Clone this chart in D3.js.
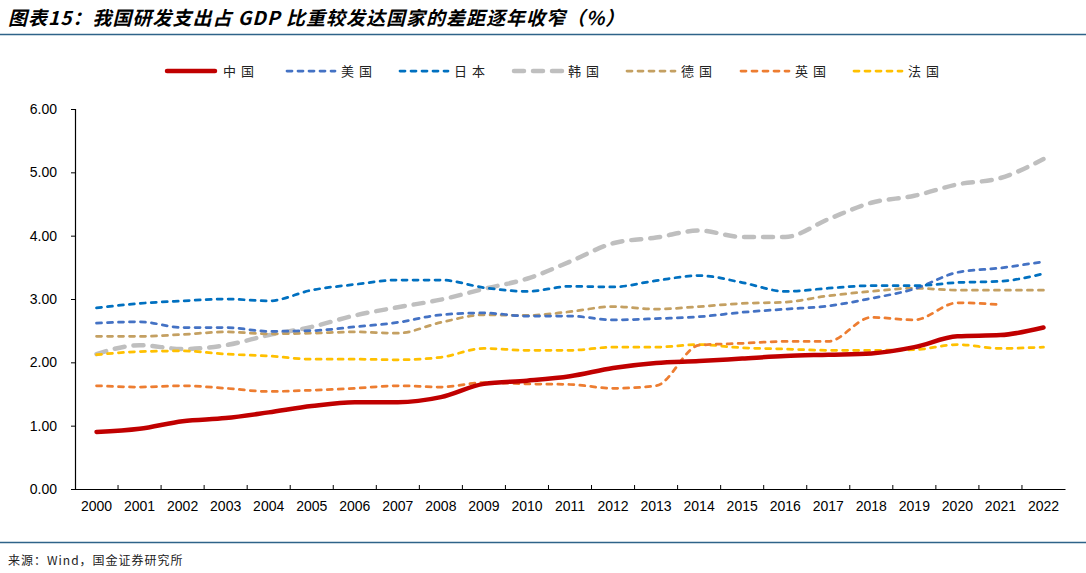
<!DOCTYPE html>
<html>
<head>
<meta charset="utf-8">
<script src="https://cdn.jsdelivr.net/npm/d3@7"></script>
<style>
  body { margin: 0; background: #fff; }
  svg { display: block; }
  .tick text { font-family: "Liberation Sans", Arial, sans-serif; font-size: 14px; fill: #000; }
</style>
</head>
<body>
<script>
const years = ["2000","2001","2002","2003","2004","2005","2006","2007","2008","2009","2010","2011",
  "2012","2013","2014","2015","2016","2017","2018","2019","2020","2021","2022"];
const yTicks = [0, 1, 2, 3, 4, 5, 6];

const china   = [0.90,0.95,1.07,1.12,1.21,1.31,1.37,1.37,1.45,1.66,1.71,1.78,1.91,1.99,2.02,2.06,2.10,2.12,2.14,2.24,2.41,2.43,2.55];
const usa     = [2.62,2.64,2.55,2.55,2.49,2.50,2.56,2.63,2.75,2.78,2.73,2.73,2.67,2.69,2.72,2.79,2.84,2.89,3.01,3.16,3.42,3.49,3.59];
const japan   = [2.86,2.93,2.97,3.00,2.97,3.14,3.23,3.30,3.30,3.18,3.12,3.20,3.19,3.29,3.37,3.26,3.12,3.17,3.21,3.21,3.26,3.28,3.40];
const korea   = [2.13,2.27,2.21,2.27,2.43,2.56,2.74,2.87,2.99,3.16,3.32,3.59,3.88,3.97,4.08,3.98,3.98,4.26,4.52,4.63,4.81,4.91,5.21];
const germany = [2.41,2.41,2.44,2.48,2.45,2.46,2.48,2.46,2.63,2.75,2.74,2.80,2.88,2.84,2.88,2.93,2.95,3.05,3.12,3.17,3.14,3.14,3.14];
const uk      = [1.63,1.61,1.63,1.59,1.54,1.56,1.59,1.63,1.61,1.68,1.66,1.65,1.59,1.63,2.27,2.30,2.33,2.33,2.71,2.67,2.94,2.91,null];
const france  = [2.12,2.17,2.18,2.13,2.10,2.05,2.05,2.04,2.08,2.22,2.19,2.19,2.24,2.24,2.28,2.23,2.21,2.19,2.19,2.20,2.28,2.22,2.24];

const series = [
  { name: "中国", values: china,   color: "#C00000", width: 4.5, dash: null },
  { name: "美国", values: usa,     color: "#4472C4", width: 2.75, dash: "5,6" },
  { name: "日本", values: japan,   color: "#0070C0", width: 2.75, dash: "5,6" },
  { name: "韩国", values: korea,   color: "#BFBFBF", width: 4.5, dash: "10,9" },
  { name: "德国", values: germany, color: "#C4A062", width: 2.75, dash: "5,6" },
  { name: "英国", values: uk,      color: "#ED7D31", width: 2.75, dash: "5,6" },
  { name: "法国", values: france,  color: "#FFC000", width: 2.75, dash: "5,6" }
];

const width = 1086;
const height = 573;
const margins = { top: 109, right: 21, bottom: 84, left: 75 };

const svg = d3.select("body").append("svg")
  .attr("width", width)
  .attr("height", height);

// title + rules
svg.append("text")
  .attr("x", 8)
  .attr("y", 25)
  .attr("font-family", "'Noto Sans CJK SC', sans-serif")
  .attr("font-size", 19)
  .attr("font-weight", "bold")
  .attr("font-style", "italic")
  .attr("letter-spacing", 1)
  .attr("fill", "#000")
  .attr("xml:space", "preserve")
  .text("图表15：我国研发支出占 GDP 比重较发达国家的差距逐年收窄（%）");

svg.append("line")
  .attr("x1", 0).attr("x2", width)
  .attr("y1", 34.5).attr("y2", 34.5)
  .attr("stroke", "#2E6389").attr("stroke-width", 1.5);

svg.append("line")
  .attr("x1", 0).attr("x2", width)
  .attr("y1", 542.5).attr("y2", 542.5)
  .attr("stroke", "#2E6389").attr("stroke-width", 1.5);

svg.append("text")
  .attr("x", 8)
  .attr("y", 565)
  .attr("font-family", "'Noto Sans CJK SC', sans-serif")
  .attr("font-size", 12)
  .attr("letter-spacing", 1)
  .attr("fill", "#222")
  .text("来源：Wind，国金证券研究所");

// scales
const x = d3.scaleBand()
  .domain(years)
  .range([margins.left, width - margins.right]);

const y = d3.scaleLinear()
  .domain([0, 6])
  .range([height - margins.bottom, margins.top]);

// axes
const xAxis = svg.append("g")
  .attr("transform", "translate(0," + y(0) + ")")
  .call(d3.axisBottom(x).tickSize(0).tickPadding(12));
xAxis.select(".domain").attr("stroke", "#000").attr("stroke-width", 1.2);

// tick marks between categories, pointing up
xAxis.selectAll(".sep")
  .data(years.slice(1))
  .enter()
  .append("line")
  .attr("class", "sep")
  .attr("x1", (d) => x(d))
  .attr("x2", (d) => x(d))
  .attr("y1", 0)
  .attr("y2", -4)
  .attr("stroke", "#000");

const yAxis = svg.append("g")
  .attr("transform", "translate(" + margins.left + ",0)")
  .call(d3.axisLeft(y).tickValues(yTicks).tickFormat(d3.format(".2f")).tickSize(4).tickPadding(14));
yAxis.select(".domain").attr("stroke", "#000").attr("stroke-width", 1.2);

// lines
const line = d3.line()
  .defined((d) => d != null)
  .x((d, i) => x(years[i]) + x.bandwidth() / 2)
  .y((d) => y(d))
  .curve(d3.curveMonotoneX);

// draw in an order similar to the reference (china on top)
const order = ["韩国", "德国", "法国", "英国", "美国", "日本", "中国"];
order.forEach(function (n) {
  const s = series.find((d) => d.name == n);
  svg.append("path")
    .datum(s.values)
    .attr("d", line)
    .attr("fill", "none")
    .attr("stroke", s.color)
    .attr("stroke-width", s.width)
    .attr("stroke-linecap", "round")
    .attr("stroke-linejoin", "round")
    .attr("stroke-dasharray", s.dash);
});

// legend
const legendX = [165, 285, 398, 512, 625, 739, 852];
const legend = svg.append("g")
  .selectAll("g")
  .data(series)
  .enter()
  .append("g")
  .attr("transform", (d, i) => "translate(" + legendX[i] + ",71)");

legend.append("line")
  .attr("x1", 2).attr("x2", 50)
  .attr("y1", 0).attr("y2", 0)
  .attr("stroke", (d) => d.color)
  .attr("stroke-width", (d) => d.width)
  .attr("stroke-linecap", "round")
  .attr("stroke-dasharray", (d) => d.dash);

legend.append("text")
  .attr("x", (d, i) => (i == 0 ? 58 : 56))
  .attr("y", 5)
  .attr("font-family", "'Noto Sans CJK SC', sans-serif")
  .attr("font-size", 13)
  .attr("letter-spacing", 5)
  .attr("fill", "#222")
  .text((d) => d.name);
</script>
</body>
</html>
